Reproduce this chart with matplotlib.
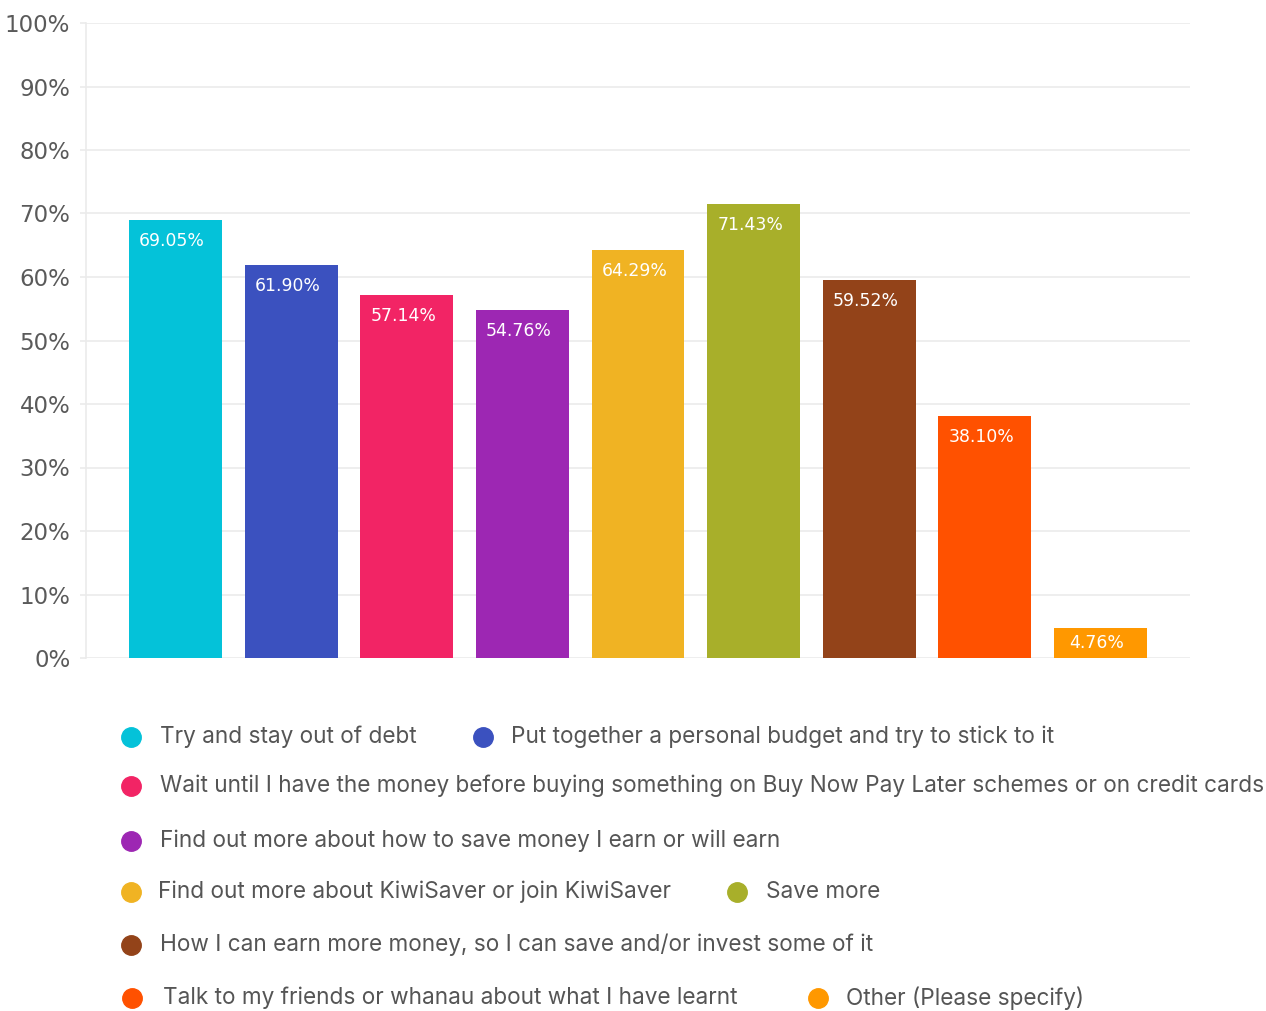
import matplotlib
matplotlib.use("Agg")
import matplotlib.pyplot as plt
from matplotlib.lines import Line2D

categories = [
    "Try and stay out of debt",
    "Put together a personal budget and try to stick to it",
    "Wait until I have the money before buying something on Buy Now Pay Later schemes or on credit cards",
    "Find out more about how to save money I earn or will earn",
    "Find out more about KiwiSaver or join KiwiSaver",
    "Save more",
    "How I can earn more money, so I can save and/or invest some of it",
    "Talk to my friends or whanau about what I have learnt",
    "Other (Please specify)",
]
values = [69.05, 61.90, 57.14, 54.76, 64.29, 71.43, 59.52, 38.10, 4.76]
colors = ["#04C2D9", "#3B51BF", "#F22465", "#9D27B3", "#F0B323",
          "#A8AF2A", "#934319", "#FF5100", "#FF9800"]
yticks = [0, 10, 20, 30, 40, 50, 60, 70, 80, 90, 100]
ytick_labels = [f"{t}%" for t in yticks]

W, H = 1266, 1011
fig = plt.figure(figsize=(W / 100, H / 100), dpi=100)
ax_h_px = 658 - 23
ax = fig.add_axes([86 / W, 1 - 658 / H, (1190 - 86) / W, ax_h_px / H])

x = list(range(len(values)))
ax.bar(x, values, width=0.804, color=colors, zorder=3)
ax.set_xlim(-0.774, 8.774)
ax.set_ylim(0, 100)
ax.set_yticks(yticks)
ax.set_yticklabels(ytick_labels, fontsize=16.5, color="#5a5a5a", family="DejaVu Sans")
ax.set_xticks([])
ax.grid(axis="y", color="#ebebeb", linewidth=1.2, zorder=0)
ax.tick_params(axis="y", length=4.3, color="#ebebeb", width=1.2, pad=7)
for s in ["top", "right", "bottom"]:
    ax.spines[s].set_visible(False)
ax.spines["left"].set_color("#ebebeb")
ax.spines["left"].set_linewidth(1.2)

for xi, v in zip(x, values):
    bar_px = v / 100 * ax_h_px
    off_px = min(21, bar_px / 2)
    ax.annotate(f"{v:.2f}%", (xi, v), xytext=(-2.5, -off_px * 0.72), textcoords="offset points",
                ha="center", va="center", color="white", fontsize=12.4,
                family="DejaVu Sans", zorder=4)

# legend (manual layout)
legend_rows = [
    (737, [(131, 160, 0), (483, 511, 1)]),
    (786, [(131, 160, 2)]),
    (841, [(131, 160, 3)]),
    (892, [(131, 158, 4), (737, 766, 5)]),
    (945, [(131, 160, 6)]),
    (998, [(132, 163, 7), (818, 846, 8)]),
]
for ypix, items in legend_rows:
    for mx, tx, idx in items:
        fy = 1 - ypix / H
        fig.add_artist(Line2D([mx / W], [fy], marker="o", markersize=14,
                              color=colors[idx], linestyle="none",
                              transform=fig.transFigure))
        fig.text(tx / W, fy, categories[idx], ha="left", va="center",
                 fontsize=16.25, color="#555555", family="Inter")

fig.savefig("out.png", dpi=100)
